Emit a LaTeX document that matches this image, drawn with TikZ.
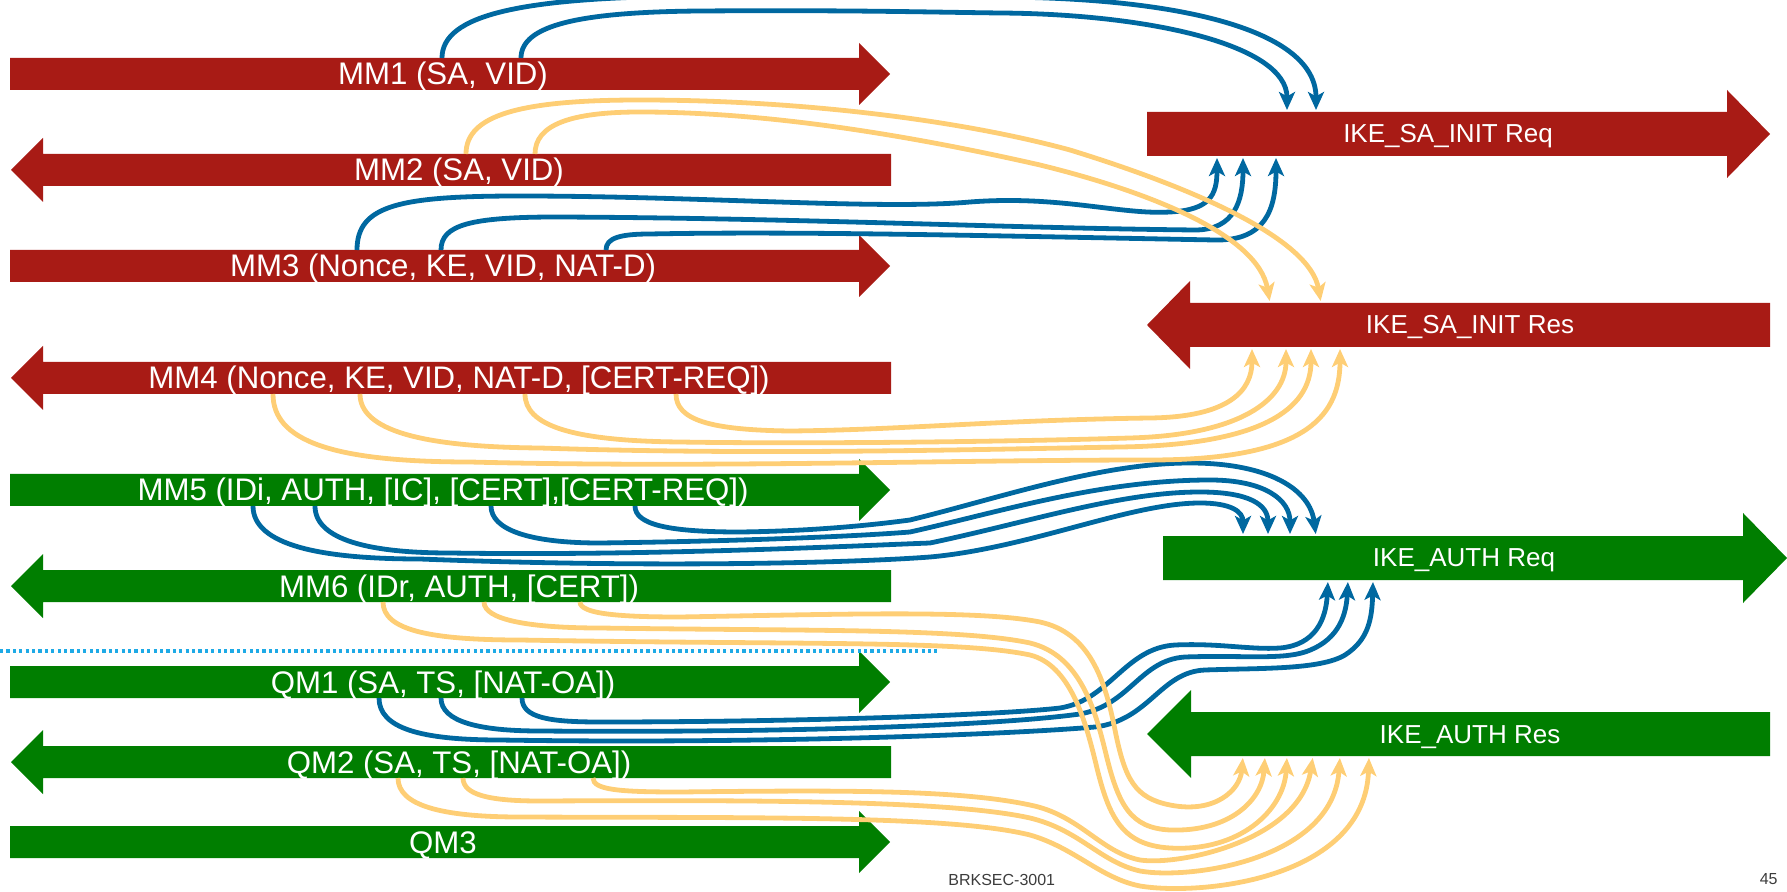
\documentclass[tikz,border=0pt]{standalone}
\usepackage{fontspec}
\setmainfont{Liberation Sans}
\usetikzlibrary{arrows.meta,fit}

\definecolor{barred}{RGB}{168,27,21}
\definecolor{bargreen}{RGB}{0,126,0}
\definecolor{flowblue}{RGB}{0,104,160}
\definecolor{flowyellow}{RGB}{254,206,117}
\definecolor{sepblue}{RGB}{30,170,230}
\definecolor{footgray}{RGB}{60,60,60}

\tikzset{
  shaft/.style={rectangle, inner sep=0pt, outer sep=0pt, draw=none},
  mmlabel/.style={anchor=base, text=white, inner sep=0pt, font=\fontsize{15.6}{18}\selectfont},
  ikelabel/.style={anchor=base, text=white, inner sep=0pt, font=\fontsize{13}{16}\selectfont},
  flow/.style={line width=2.4pt, shorten >=1pt, -{Stealth[length=9pt,width=8pt,inset=2.2pt]}},
  req/.style={flow, draw=flowblue},
  res/.style={flow, draw=flowyellow},
  separator/.style={draw=sepblue, line width=1.7pt, dash pattern=on 1.6pt off 1.6pt},
  foot/.style={anchor=base, inner sep=0pt, text=footgray, font=\fontsize{8}{10}\selectfont},
}

% right-pointing bar: name, colour, tail x, head base x, tip x, centre y, half shaft, half head
\newcommand\barright[8]{%
  \node[shaft, fit={(#3,#6-#7) (#4,#6+#7)}] (#1) {};
  \fill[#2] (#1.north west) -- (#1.north east) -- (#4,#6-#8) -- (#5,#6)
    -- (#4,#6+#8) -- (#1.south east) -- (#1.south west) -- cycle;
}
% left-pointing bar: name, colour, tip x, head base x, tail x, centre y, half shaft, half head
\newcommand\barleft[8]{%
  \node[shaft, fit={(#4,#6-#7) (#5,#6+#7)}] (#1) {};
  \fill[#2] (#1.north east) -- (#1.north west) -- (#4,#6-#8) -- (#3,#6)
    -- (#4,#6+#8) -- (#1.south west) -- (#1.south east) -- cycle;
}

\begin{document}
\begin{tikzpicture}[x=0.5pt, y=-0.5pt]
\useasboundingbox (0,0) rectangle (1787,892);
\clip (0,0) rectangle (1787,892);

% IKEv1 main mode / quick mode messages
\barright{mm1}{barred}{10}{859}{890}{74}{16}{31}
\barleft{mm2}{barred}{11}{43}{891}{170}{16}{32}
\barright{mm3}{barred}{10}{859}{890}{266}{16}{31}
\barleft{mm4}{barred}{11}{43}{891}{378}{16}{32}
\barright{mm5}{bargreen}{10}{859}{890}{490}{16}{31}
\barleft{mm6}{bargreen}{11}{43}{891}{586}{16}{32}
\barright{qm1}{bargreen}{10}{859}{890}{682}{16}{31}
\barleft{qm2}{bargreen}{11}{43}{891}{762}{16}{32}
\barright{qm3}{bargreen}{10}{859}{890}{842}{16}{31}

% IKEv2 exchanges
\barright{ikesaq}{barred}{1147}{1727}{1770}{134}{22}{44}
\barleft{ikesas}{barred}{1147}{1190}{1770}{325}{22}{44}
\barright{ikeaq}{bargreen}{1163}{1743}{1787}{558}{22}{45}
\barleft{ikeas}{bargreen}{1147}{1191}{1770}{734}{22}{44}

\node[mmlabel] (mm1t) at (443,85) {MM1 (SA, VID)};
\node[mmlabel] (mm2t) at (459,181) {MM2 (SA, VID)};
\node[mmlabel] (mm3t) at (443,277) {MM3 (Nonce, KE, VID, NAT-D)};
\node[mmlabel] (mm4t) at (459,389) {MM4 (Nonce, KE, VID, NAT-D, [CERT-REQ])};
\node[mmlabel] (mm5t) at (443,501) {MM5 (IDi, AUTH, [IC], [CERT],[CERT-REQ])};
\node[mmlabel] (mm6t) at (459,597) {MM6 (IDr, AUTH, [CERT])};
\node[mmlabel] (qm1t) at (443,693) {QM1 (SA, TS, [NAT-OA])};
\node[mmlabel] (qm2t) at (459,773) {QM2 (SA, TS, [NAT-OA])};
\node[mmlabel] (qm3t) at (443,853) {QM3};

\node[ikelabel] (ikesaqt) at (1448,143) {IKE\_SA\_INIT Req};
\node[ikelabel] (ikesast) at (1470,334) {IKE\_SA\_INIT Res};
\node[ikelabel] (ikeaqt) at (1464,567) {IKE\_AUTH Req};
\node[ikelabel] (ikeast) at (1470,743) {IKE\_AUTH Res};

% boundary between main mode and quick mode
\draw[separator] (0,651) -- (937,651);

% ---- initiator payloads (blue) ----
% MM1 -> IKE_SA_INIT Req
\draw[req] (442,0 |- mm1.north) .. controls (442,15) and (520,-3) .. (700,-4)
  .. controls (850,-5) and (900,-4) .. (1000,-3)
  .. controls (1180,-2) and (1316,30) .. (1316,0 |- ikesaq.north);
\draw[req] (521,0 |- mm1.north) .. controls (521,25) and (580,12) .. (700,11)
  .. controls (850,10) and (920,12) .. (1000,13)
  .. controls (1150,14) and (1287,45) .. (1287,0 |- ikesaq.north);

% MM3 -> IKE_SA_INIT Req
\draw[req] (357,0 |- mm3.north) .. controls (357,205) and (400,196) .. (520,196)
  .. controls (700,196) and (880,210) .. (970,202)
  .. controls (1060,195) and (1120,215) .. (1170,212)
  .. controls (1210,210) and (1217,195) .. (1217,0 |- ikesaq.south);
\draw[req] (441,0 |- mm3.north) .. controls (441,225) and (470,217) .. (557,217)
  .. controls (800,218) and (1000,228) .. (1195,230)
  .. controls (1235,230) and (1243,200) .. (1243,0 |- ikesaq.south);
\draw[req] (606,0 |- mm3.north) .. controls (606,238) and (620,234) .. (650,234)
  .. controls (800,231) and (1000,236) .. (1215,240)
  .. controls (1265,241) and (1276,210) .. (1276,0 |- ikesaq.south);

% MM5 -> IKE_AUTH Req
\draw[req] (635,0 |- mm5.south) .. controls (635,525) and (670,532) .. (740,532)
  .. controls (820,531) and (880,524) .. (910,520)
  .. controls (1000,498) and (1100,463) .. (1190,463)
  .. controls (1270,463) and (1310,490) .. (1316,0 |- ikeaq.north);
\draw[req] (491,0 |- mm5.south) .. controls (491,530) and (530,543) .. (600,543)
  .. controls (750,541) and (860,536) .. (910,532)
  .. controls (1000,512) and (1100,480) .. (1210,480)
  .. controls (1265,480) and (1290,500) .. (1290,0 |- ikeaq.north);
\draw[req] (315,0 |- mm5.south) .. controls (315,540) and (370,553) .. (450,553)
  .. controls (650,556) and (850,546) .. (930,543)
  .. controls (1030,522) and (1120,492) .. (1200,492)
  .. controls (1250,492) and (1268,505) .. (1268,0 |- ikeaq.north);
\draw[req] (253,0 |- mm5.south) .. controls (253,545) and (320,559) .. (420,559)
  .. controls (650,568) and (850,563) .. (930,557)
  .. controls (1030,548) and (1130,503) .. (1200,503)
  .. controls (1232,503) and (1243,512) .. (1243,0 |- ikeaq.north);

% QM1 -> IKE_AUTH Req
\draw[req] (522,0 |- qm1.south) .. controls (522,718) and (550,722) .. (600,722)
  .. controls (800,722) and (1000,715) .. (1060,708)
  .. controls (1110,700) and (1125,648) .. (1175,645)
  .. controls (1220,643) and (1250,650) .. (1280,648)
  .. controls (1315,645) and (1326,620) .. (1328,0 |- ikeaq.south);
\draw[req] (441,0 |- qm1.south) .. controls (441,722) and (480,731) .. (540,731)
  .. controls (800,733) and (1000,725) .. (1080,714)
  .. controls (1130,705) and (1140,660) .. (1185,657)
  .. controls (1240,655) and (1280,660) .. (1305,652)
  .. controls (1335,642) and (1346,620) .. (1348,0 |- ikeaq.south);
\draw[req] (379,0 |- qm1.south) .. controls (379,728) and (420,740) .. (500,740)
  .. controls (750,744) and (1000,735) .. (1095,727)
  .. controls (1150,720) and (1160,672) .. (1205,670)
  .. controls (1260,668) and (1320,670) .. (1345,655)
  .. controls (1368,640) and (1372,620) .. (1373,0 |- ikeaq.south);

% ---- responder payloads (yellow) ----
% MM2 -> IKE_SA_INIT Res
\draw[res] (466,0 |- mm2.north) .. controls (466,115) and (520,100) .. (640,100)
  .. controls (800,100) and (960,120) .. (1070,150)
  .. controls (1200,190) and (1310,240) .. (1321,0 |- ikesas.north);
\draw[res] (535,0 |- mm2.north) .. controls (535,125) and (570,112) .. (640,112)
  .. controls (780,112) and (930,140) .. (1040,165)
  .. controls (1150,192) and (1258,235) .. (1270,0 |- ikesas.north);

% MM4 -> IKE_SA_INIT Res
\draw[res] (273,0 |- mm4.south) .. controls (273,440) and (330,462) .. (470,462)
  .. controls (700,468) and (950,460) .. (1150,460)
  .. controls (1300,460) and (1340,420) .. (1340,0 |- ikesas.south);
\draw[res] (360,0 |- mm4.south) .. controls (360,430) and (420,447) .. (540,448)
  .. controls (750,455) and (950,450) .. (1120,447)
  .. controls (1260,445) and (1311,410) .. (1311,0 |- ikesas.south);
\draw[res] (525,0 |- mm4.south) .. controls (525,425) and (570,441) .. (680,442)
  .. controls (800,444) and (1000,442) .. (1130,438)
  .. controls (1240,435) and (1286,400) .. (1286,0 |- ikesas.south);
\draw[res] (676,0 |- mm4.south) .. controls (676,420) and (710,430) .. (790,431)
  .. controls (900,430) and (1000,420) .. (1150,418)
  .. controls (1230,417) and (1252,390) .. (1252,0 |- ikesas.south);

% MM6 -> IKE_AUTH Res
\draw[res] (580,0 |- mm6.south) .. controls (580,614) and (620,617) .. (680,617)
  .. controls (850,614) and (980,610) .. (1040,622)
  .. controls (1090,633) and (1105,680) .. (1115,730)
  .. controls (1125,780) and (1135,798) .. (1170,805)
  .. controls (1215,814) and (1240,790) .. (1243,0 |- ikeas.south);
\draw[res] (484,0 |- mm6.south) .. controls (484,620) and (530,628) .. (600,628)
  .. controls (800,631) and (960,628) .. (1030,643)
  .. controls (1080,655) and (1095,710) .. (1105,750)
  .. controls (1118,805) and (1130,828) .. (1170,830)
  .. controls (1230,832) and (1262,800) .. (1265,0 |- ikeas.south);
\draw[res] (383,0 |- mm6.south) .. controls (383,630) and (430,640) .. (520,640)
  .. controls (800,645) and (960,640) .. (1030,655)
  .. controls (1070,665) and (1085,720) .. (1095,760)
  .. controls (1108,815) and (1120,845) .. (1170,848)
  .. controls (1240,852) and (1284,810) .. (1287,0 |- ikeas.south);

% QM2 -> IKE_AUTH Res
\draw[res] (593,0 |- qm2.south) .. controls (593,790) and (620,792) .. (680,792)
  .. controls (850,790) and (960,790) .. (1030,805)
  .. controls (1080,815) and (1100,852) .. (1140,860)
  .. controls (1180,866) and (1300,840) .. (1313,0 |- ikeas.south);
\draw[res] (463,0 |- qm2.south) .. controls (463,795) and (490,801) .. (540,801)
  .. controls (750,800) and (950,800) .. (1030,818)
  .. controls (1080,830) and (1100,862) .. (1140,871)
  .. controls (1190,880) and (1333,860) .. (1340,0 |- ikeas.south);
\draw[res] (398,0 |- qm2.south) .. controls (398,805) and (440,817) .. (520,817)
  .. controls (750,818) and (950,815) .. (1030,835)
  .. controls (1075,848) and (1100,878) .. (1140,886)
  .. controls (1200,896) and (1365,880) .. (1369,0 |- ikeas.south);

% footer
\node[foot, anchor=base west] (code) at (948,885) {BRKSEC-3001};
\node[foot, anchor=base east] (page) at (1778,884) {45};
\end{tikzpicture}
\end{document}
